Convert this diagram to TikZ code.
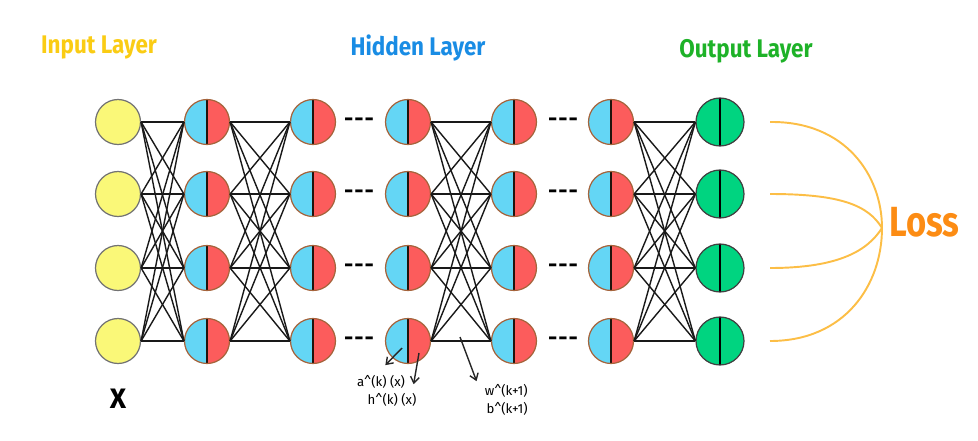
\documentclass[tikz,border=0pt]{standalone}
\usepackage{fontspec}
\setmainfont{Fira Sans}
\usepackage{graphicx}
\usepackage{tikz}
\usetikzlibrary{
    arrows.meta,
    calc
}
\usepackage{xcolor}

\definecolor{inyellow}{RGB}{250,248,120}
\definecolor{hblue}{RGB}{100,214,245}
\definecolor{hred}{RGB}{252,92,92}
\definecolor{hborder}{RGB}{165,100,60}
\definecolor{ogreen}{RGB}{0,212,128}
\definecolor{titleyellow}{RGB}{250,204,20}
\definecolor{titleblue}{RGB}{25,140,228}
\definecolor{titlegreen}{RGB}{30,178,40}
\definecolor{lossorange}{RGB}{252,140,20}
\definecolor{losscurve}{RGB}{252,190,70}

\begin{document}
\begin{tikzpicture}[
        x=0.02cm, y=-0.02cm,
        >={Straight Barb[length=3.5pt,width=5pt]},
        inputnode/.style={
            circle,
            draw=black!55,
            fill=inyellow,
            line width=0.7pt,
            minimum size=0.9cm,
            inner sep=0pt
        },
        hiddennode/.style={
            circle,
            draw=hborder,
            line width=0.7pt,
            minimum size=0.9cm,
            inner sep=0pt,
            path picture={
                \fill[hblue] (path picture bounding box.south west) rectangle (path picture bounding box.north);
                \fill[hred] (path picture bounding box.south) rectangle (path picture bounding box.north east);
                \draw[black!80!hborder, line width=0.9pt] (path picture bounding box.north) -- (path picture bounding box.south);
            }
        },
        outputnode/.style={
            circle,
            draw=black!75,
            fill=ogreen,
            line width=0.7pt,
            minimum size=0.96cm,
            inner sep=0pt,
            path picture={
                \draw[black, line width=0.9pt] (path picture bounding box.north) -- (path picture bounding box.south);
            }
        },
        link/.style={line width=0.8pt, black!90},
        gapdots/.style={font=\fontsize{13}{13}\selectfont\bfseries, inner sep=0pt},
        layertitle/.style={font=\fontsize{14.5}{17}\selectfont\bfseries, inner sep=0pt},
        annot/.style={font=\fontsize{7.5}{9}\selectfont\mdseries, inner sep=0pt},
        annotarrow/.style={->, line width=0.8pt, black!85}
    ]

    \useasboundingbox (0,0) rectangle (978,440);

    % titles
    \node[layertitle, text=titleyellow] (tin) at (99,47) {\scalebox{0.88}[1]{Input Layer}};
    \node[layertitle, text=titleblue] (thid) at (418,48) {\scalebox{0.88}[1]{Hidden Layer}};
    \node[layertitle, text=titlegreen] (tout) at (746,51) {\scalebox{0.88}[1]{Output Layer}};

    % layers
    \foreach \r/\yy in {1/122,2/194,3/268,4/341} {
        \node[inputnode] (in-\r) at (118,\yy) {};
        \node[hiddennode] (h1-\r) at (207,\yy) {};
        \node[hiddennode] (h2-\r) at (313,\yy) {};
        \node[hiddennode] (h3-\r) at (408,\yy) {};
        \node[hiddennode] (h4-\r) at (514,\yy) {};
        \node[hiddennode] (h5-\r) at (611,\yy) {};
        \node[outputnode] (out-\r) at (720,\yy) {};
        \node[gapdots] (dl-\r) at (359,\yy) {-\kern0.6pt-\kern0.6pt-};
        \node[gapdots] (dr-\r) at (563,\yy) {-\kern0.6pt-\kern0.6pt-};
        \coordinate (lc-\r) at (770,\yy);
    }

    % full connections
    \foreach \i in {1,...,4} {
        \foreach \j in {1,...,4} {
            \draw[link] (in-\i.east) -- (h1-\j.west);
            \draw[link] (h1-\i.east) -- (h2-\j.west);
            \draw[link] (h3-\i.east) -- (h4-\j.west);
            \draw[link] (h5-\i.east) -- (out-\j.west);
        }
    }

    % loss
    \coordinate (lossin) at (882,228);
    \node[font=\fontsize{24}{24}\selectfont\bfseries, text=lossorange, anchor=west, inner sep=0pt] (loss) at (889,222) {\scalebox{0.82}[1]{Loss}};
    \draw[losscurve, line width=1.1pt] (lc-1) .. controls (845,121) and (882,175) .. (lossin);
    \draw[losscurve, line width=1.1pt] (lc-2) .. controls (840,194) and (868,205) .. (lossin);
    \draw[losscurve, line width=1.1pt] (lc-3) .. controls (840,268) and (868,250) .. (lossin);
    \draw[losscurve, line width=1.1pt] (lc-4) .. controls (845,341) and (882,285) .. (lossin);

    \node[font=\fontsize{16}{16}\selectfont\bfseries, inner sep=0pt] (xin) at (118,399) {X};

    % annotations
    \node[annot] (alab) at (381,382) {a\^{}(k) (x)};
    \node[annot] (hlab) at (392,400) {h\^{}(k) (x)};
    \node[annot, anchor=east] (wlab) at (528,391) {w\^{}(k+1)};
    \node[annot, anchor=east] (blab) at (528,409) {b\^{}(k+1)};
    \coordinate (pa) at (402,348);
    \coordinate (ph) at (419,353);
    \coordinate (pw) at (460,337);
    \draw[annotarrow] (pa) -- ($(alab.north east)+(-20,-10)$);
    \draw[annotarrow] (ph) -- ($(hlab.north east)+(-3,-9)$);
    \draw[annotarrow] (pw) -- ($(wlab.north west)+(-8,-3)$);

\end{tikzpicture}
\end{document}
